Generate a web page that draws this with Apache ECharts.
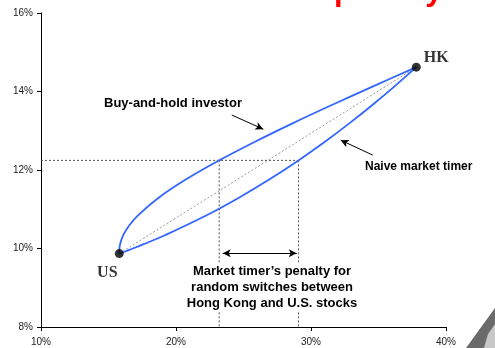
<!DOCTYPE html>
<html>
<head>
<meta charset="utf-8">
<script src="https://cdn.jsdelivr.net/npm/echarts@6/dist/echarts.min.js"></script>
<style>
  html, body { margin: 0; padding: 0; background: #fff; }
  #chart { width: 495px; height: 348px; }
</style>
</head>
<body>
<div id="chart"></div>
<script>
// Risk (std. dev., %) vs. return (%) for US / HK stock mixes
const xTicks = [10, 20, 30, 40];
const yTicks = [8, 10, 12, 14, 16];

const usPoint = [15.8, 9.87];
const hkPoint = [37.8, 14.62];

// Buy-and-hold investor frontier
const holdRisk   = [15.80, 15.80, 15.86, 16.10, 16.52, 17.11, 18.72, 20.79, 23.20, 25.85, 28.67, 31.63, 34.68, 37.80];
const holdReturn = [9.87, 9.965, 10.11, 10.345, 10.58, 10.82, 11.295, 11.77, 12.245, 12.72, 13.195, 13.67, 14.145, 14.62];

// Naive market timer curve
const timerRisk   = [15.80, 16.18, 16.54, 17.60, 19.22, 22.12, 24.66, 26.96, 29.07, 31.03, 32.86, 34.59, 36.23, 37.80];
const timerReturn = [9.87, 9.9175, 9.965, 10.11, 10.345, 10.82, 11.295, 11.77, 12.245, 12.72, 13.195, 13.67, 14.145, 14.62];

// 50/50 mix reference levels
const mixReturn = 12.245;
const mixHoldRisk = 23.20;
const mixTimerRisk = 29.07;

const zip = (a, b) => a.map((v, i) => [v, b[i]]);

const chart = echarts.init(document.getElementById('chart'), null, { renderer: 'canvas' });

const sans = 'Arial, "Liberation Sans", sans-serif';
const serif = '"Times New Roman", "Liberation Serif", serif';
const axisFont = { fontFamily: sans, fontSize: 10, color: '#222' };
const boldFont = 'bold 13px ' + sans;

const dotted = { color: '#555', width: 1, type: [2, 2] };

chart.setOption({
  animation: false,
  backgroundColor: '#fff',
  grid: { left: 41, right: 49, top: 13, bottom: 21 },
  xAxis: {
    type: 'value', min: xTicks[0], max: xTicks[xTicks.length - 1], interval: 10,
    axisLine: { show: true, lineStyle: { color: '#000', width: 1 } },
    axisTick: { show: true, length: 4, lineStyle: { color: '#000' } },
    splitLine: { show: false },
    axisLabel: Object.assign({ margin: 10, formatter: v => v + '%' }, axisFont)
  },
  yAxis: {
    type: 'value', min: yTicks[0], max: yTicks[yTicks.length - 1], interval: 2,
    axisLine: { show: true, lineStyle: { color: '#000', width: 1 } },
    axisTick: { show: true, length: 4, lineStyle: { color: '#000' } },
    splitLine: { show: false },
    axisLabel: Object.assign({ margin: 8, formatter: v => v + '%' }, axisFont)
  },
  series: [
    { // horizontal level of the 50/50 mix
      type: 'line', symbol: 'none', silent: true,
      data: [[xTicks[0], mixReturn], [mixTimerRisk, mixReturn]],
      lineStyle: dotted, z: 1
    },
    {
      type: 'line', symbol: 'none', silent: true,
      data: [[mixHoldRisk, mixReturn], [mixHoldRisk, yTicks[0]]],
      lineStyle: dotted, z: 1
    },
    {
      type: 'line', symbol: 'none', silent: true,
      data: [[mixTimerRisk, mixReturn], [mixTimerRisk, yTicks[0]]],
      lineStyle: dotted, z: 1
    },
    { // straight line between the two markets
      type: 'line', symbol: 'none', silent: true,
      data: [usPoint, hkPoint],
      lineStyle: { color: '#999', width: 1, type: [2, 2] }, z: 2
    },
    {
      name: 'Buy-and-hold investor',
      type: 'line', symbol: 'none', smooth: 0.4,
      data: zip(holdRisk, holdReturn),
      lineStyle: { color: '#3366ff', width: 1.8 }, z: 3,
      markLine: {
        silent: true, symbol: ['none', 'arrow'], symbolSize: [6, 8],
        lineStyle: { color: '#000', width: 1, type: 'solid' },
        label: { show: false },
        data: [
          [{ coord: [24.13, 13.40] }, { coord: [26.47, 13.04] }],
          [{ coord: [34.57, 12.38] }, { coord: [32.2, 12.76] }]
        ]
      }
    },
    {
      name: 'Naive market timer',
      type: 'line', symbol: 'none', smooth: 0.4,
      data: zip(timerRisk, timerReturn),
      lineStyle: { color: '#3366ff', width: 1.8 }, z: 3,
      markLine: {
        silent: true, symbol: ['arrow', 'arrow'], symbolSize: [6, 8],
        lineStyle: { color: '#000', width: 1, type: 'solid' },
        label: { show: false },
        data: [
          [{ coord: [23.46, 9.88] }, { coord: [28.94, 9.88] }]
        ]
      }
    },
    {
      type: 'scatter', symbol: 'circle', symbolSize: 9, z: 5,
      itemStyle: { color: '#000' },
      label: { color: '#000', fontFamily: serif, fontWeight: 'bold', fontSize: 16 },
      data: [
        { value: usPoint, label: { show: true, position: 'inside', offset: [-12, 19], formatter: 'US' } },
        { value: hkPoint, label: { show: true, position: 'inside', offset: [20, -9], formatter: 'HK' } }
      ]
    }
  ],
  graphic: [
    {
      type: 'text', x: 325, y: -9, z: 10,
      style: { text: 'The market timer’s', font: 'bold 31px ' + sans, fill: '#d6d6d6', textAlign: 'right', textVerticalAlign: 'middle' }
    },
    {
      type: 'text', x: 334, y: -9, z: 10,
      style: { text: 'penalty', font: 'bold 31px ' + sans, fill: '#ff0000', textAlign: 'left', textVerticalAlign: 'middle' }
    },
    {
      type: 'text', x: 104, y: 103, z: 10,
      style: { text: 'Buy-and-hold investor', font: boldFont, fill: '#000', textAlign: 'left', textVerticalAlign: 'middle' }
    },
    {
      type: 'text', x: 365, y: 167, z: 10,
      style: { text: 'Naive market timer', font: 'bold 12px ' + sans, fill: '#000', textAlign: 'left', textVerticalAlign: 'middle' }
    },
    {
      type: 'text', x: 272, y: 287, z: 10,
      style: {
        text: 'Market timer’s penalty for\nrandom switches between\nHong Kong and U.S. stocks',
        font: boldFont, fill: '#000', lineHeight: 16,
        textAlign: 'center', textVerticalAlign: 'middle',
        backgroundColor: '#fff', padding: [0, 2]
      }
    },
    { // page-corner decoration
      type: 'polygon', z: 10,
      shape: { points: [[466, 348], [495, 308], [495, 348]] },
      style: { fill: '#6a6a6a' }
    },
    {
      type: 'polygon', z: 11,
      shape: { points: [[484, 348], [488, 334], [495, 324], [495, 348]] },
      style: { fill: '#c8c8c8' }
    }
  ]
});
</script>
</body>
</html>
